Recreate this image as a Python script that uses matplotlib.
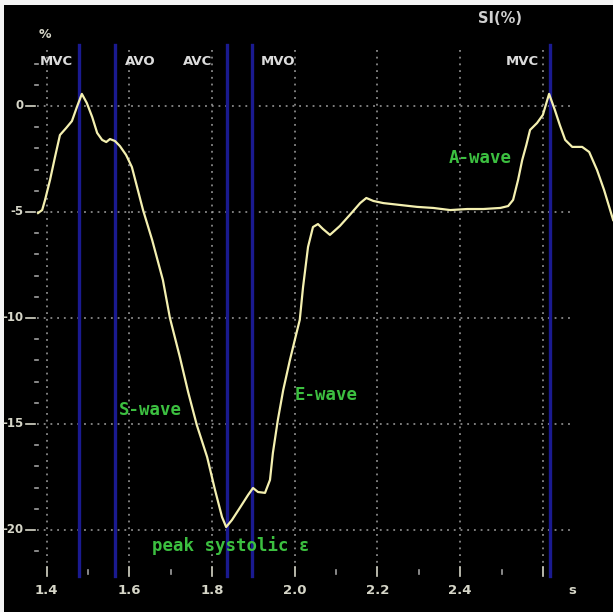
import matplotlib

matplotlib.use("Agg")
import matplotlib.pyplot as plt

# strain curve (time in s, strain in %)
time_s = [1.379, 1.389, 1.396, 1.408, 1.420, 1.432, 1.447, 1.461, 1.473, 1.485,
          1.497, 1.510, 1.522, 1.534, 1.544, 1.553, 1.565, 1.577, 1.592, 1.606,
          1.633, 1.655, 1.681, 1.698, 1.722, 1.742, 1.763, 1.788, 1.807, 1.824,
          1.834, 1.848, 1.867, 1.887, 1.899, 1.911, 1.928, 1.940, 1.947, 1.959,
          1.972, 1.988, 2.003, 2.012, 2.020, 2.032, 2.044, 2.056, 2.068, 2.085,
          2.109, 2.133, 2.158, 2.173, 2.190, 2.214, 2.255, 2.296, 2.335, 2.376,
          2.417, 2.456, 2.497, 2.516, 2.528, 2.540, 2.550, 2.560, 2.569, 2.586,
          2.600, 2.615, 2.629, 2.641, 2.654, 2.671, 2.695, 2.712, 2.731, 2.748,
          2.770]
strain_pct = [-5.05, -4.91, -4.43, -3.49, -2.41, -1.37, -1.04, -0.71, -0.05, 0.57,
              0.14, -0.52, -1.27, -1.60, -1.70, -1.56, -1.65, -1.89, -2.31, -2.88,
              -4.91, -6.32, -8.21, -10.00, -11.84, -13.49, -15.05, -16.56, -18.11, -19.39,
              -19.86, -19.53, -18.96, -18.35, -18.02, -18.21, -18.25, -17.64, -16.37, -14.81,
              -13.40, -12.00, -10.80, -10.09, -8.54, -6.65, -5.71, -5.57, -5.80, -6.08,
              -5.66, -5.14, -4.58, -4.34, -4.48, -4.58, -4.67, -4.76, -4.81, -4.91,
              -4.86, -4.86, -4.81, -4.72, -4.43, -3.49, -2.55, -1.84, -1.13, -0.80,
              -0.42, 0.57, -0.19, -0.90, -1.60, -1.93, -1.93, -2.17, -3.02, -3.96,
              -5.38]

event_times = [1.478, 1.565, 1.835, 1.897, 2.617]
event_names = ["MVC", "AVO", "AVC", "MVO", "MVC"]
event_label_t = [1.4225, 1.6256, 1.7659, 1.9594, 2.5494]

x_major = [1.4, 1.6, 1.8, 2.0, 2.2, 2.4, 2.6]
x_minor = [1.5, 1.7, 1.9, 2.1, 2.3, 2.5]
x_labels = ["1.4", "1.6", "1.8", "2.0", "2.2", "2.4"]
y_major = [0, -5, -10, -15, -20]
y_minor = [2, 1, -1, -2, -3, -4, -6, -7, -8, -9, -11, -12, -13, -14,
           -16, -17, -18, -19, -21]

fig = plt.figure(figsize=(6.13, 6.12), dpi=100, facecolor="#f4f4f4")
ax = fig.add_axes([4 / 613, 0, 609 / 613, 607 / 612])
ax.set_facecolor("black")
ax.set_xlim(1.2967, 2.7696)
ax.set_ylim(-23.87, 4.764)
ax.set_xticks([])
ax.set_yticks([])
for sp in ax.spines.values():
    sp.set_visible(False)

grid_kw = dict(color="#a0a0a0", lw=1.1, ls=(0, (1.2, 3.2)))
for t in x_major:
    ax.plot([t, t], [2.64, -21.8], **grid_kw)
for v in y_major:
    ax.plot([1.3765, 2.673], [v, v], **grid_kw)

# axis ticks and labels
lab_col = "#d6d6c8"
for v in y_major:
    ax.plot([1.350, 1.3717], [v, v], color=lab_col, lw=1.2)
    ax.text(1.345, v, str(v), ha="right", va="center", color=lab_col,
            fontweight="bold", fontsize=8.5)
for v in y_minor:
    ax.plot([1.3717, 1.379], [v, v], color="#a0a0a0", lw=1.2)
for t in x_major:
    ax.plot([t, t], [-21.75, -22.15], color=lab_col, lw=1.2)
for t in x_minor:
    ax.plot([t, t], [-21.9, -22.1], color="#a0a0a0", lw=1.2)
for t, lab in zip(x_major, x_labels):
    ax.text(t, -22.85, lab, ha="center", va="center", color=lab_col,
            fontweight="bold", fontsize=9.5)
ax.text(2.671, -22.85, "s", ha="center", va="center", color=lab_col,
        fontweight="bold", fontsize=9.5)
ax.text(1.396, 3.35, "%", ha="center", va="center", color=lab_col,
        fontweight="bold", fontsize=9)
ax.text(2.496, 4.15, "SI(%)", ha="center", va="center", color="#d0d0d0",
        fontweight="bold", fontsize=10.5)

# cardiac events
for t in event_times:
    ax.plot([t, t], [2.88, -22.15], color="#1a1a90", lw=2.4)
for t, name in zip(event_label_t, event_names):
    ax.text(t, 2.08, name, ha="center", va="center", color="#dcdcdc",
            fontweight="bold", fontsize=9.5)

ax.plot(time_s, strain_pct, color="#f4f0b0", lw=1.6)

green = dict(color="#3cc040", family="DejaVu Sans Mono", fontweight="bold",
             fontsize=12.5)
ax.text(1.650, -14.34, "S-wave", ha="center", va="center", **green)
ax.text(2.076, -13.63, "E-wave", ha="center", va="center", **green)
ax.text(2.448, -2.45, "A-wave", ha="center", va="center", **green)
ax.text(1.655, -20.71, "peak systolic ε", ha="left", va="center", **green)

fig.savefig("out.png", dpi=100, facecolor=fig.get_facecolor())
